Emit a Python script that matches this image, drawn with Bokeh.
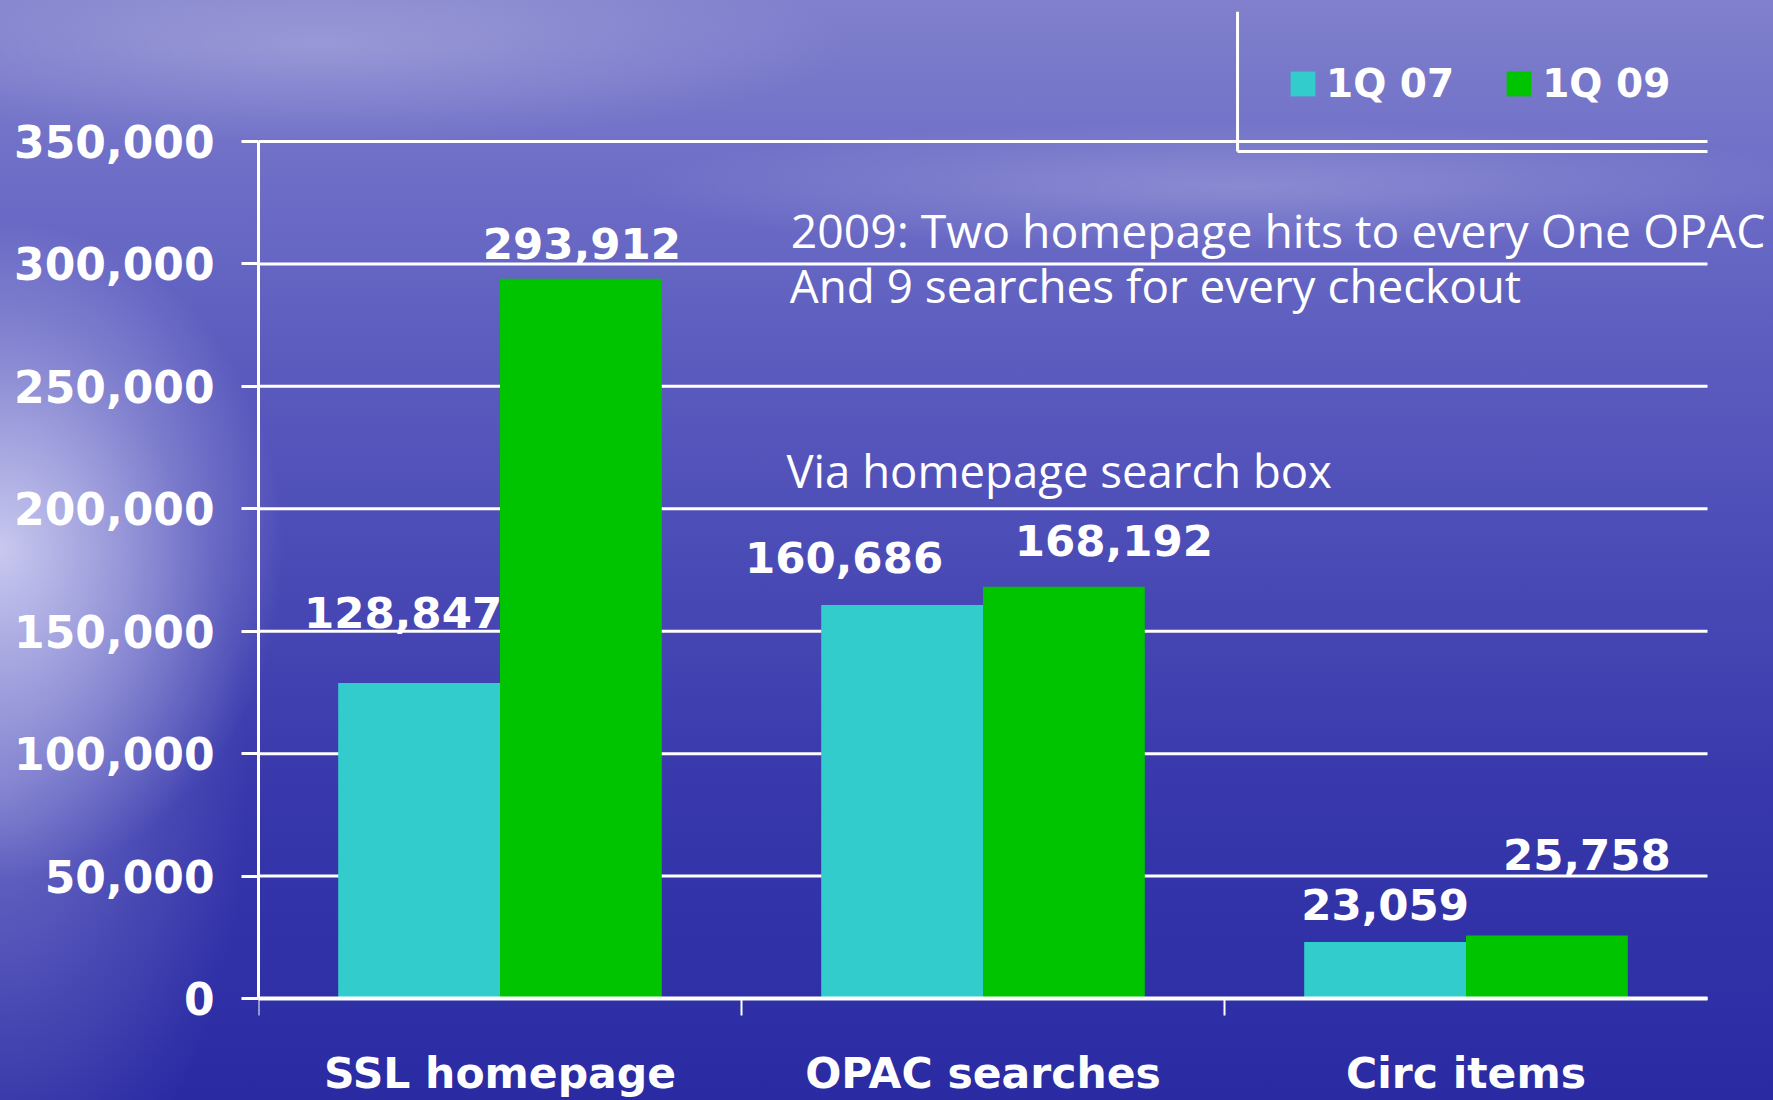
from bokeh.plotting import figure
from bokeh.models import (ColumnDataSource, FixedTicker, NumeralTickFormatter, Range1d,
                          Legend, LegendItem, LabelSet, Label)
from bokeh.core.properties import value
from bokeh.transform import dodge
from bokeh.embed import file_html
from bokeh.resources import INLINE

# ---------------- data ----------------
categories = ["SSL homepage", "OPAC searches", "Circ items"]
series_names = ["1Q 07", "1Q 09"]
values_1q07 = [128847, 160686, 23059]
values_1q09 = [293912, 168192, 25758]
y_ticks = [0, 50000, 100000, 150000, 200000, 250000, 300000, 350000]
notes = ["2009: Two homepage hits to every One OPAC",
         "And  9 searches for every checkout",
         "Via homepage search box"]

# ---------------- styling (label nudges in screen px) ----------------
label_dx_07 = [-16, -58, 0]
label_dy_07 = [55, 32, 22]
label_dx_09 = [1, 50, 40]
label_dy_09 = [20, 31, 65]
note_pos = [(0.602, 313650), (0.600, 291200), (0.593, 215650)]
note_size = ["46.3px", "45.8px", "45.5px"]

CYAN = "#33CCCC"
GREEN = "#00C400"
BOLD = value("DejaVu Sans")

W, H = 1773, 1100
LEFT = 258
n = len(categories)
px_per_cat = 483.0
x_end = n - 0.5 + (W - LEFT - n * px_per_cat) / px_per_cat
y_max = y_ticks[-1]
px_per_val = 857.0 / y_max
zero_px = 998
y_top = zero_px / px_per_val
y_bot = -(H - zero_px) / px_per_val

bg = ("radial-gradient(ellipse 16% 30% at 0% 50%, rgba(235,235,255,0.75), rgba(235,235,255,0) 100%),"
      "radial-gradient(ellipse 14% 40% at 0% 72%, rgba(200,200,245,0.35), rgba(200,200,245,0) 100%),"
      "radial-gradient(ellipse 30% 9% at 18% 4%, rgba(255,255,255,0.22), rgba(255,255,255,0) 100%),"
      "radial-gradient(ellipse 35% 6% at 70% 17%, rgba(255,255,255,0.20), rgba(255,255,255,0) 100%),"
      "linear-gradient(to bottom, #8080cd 0%, #7070c8 14%, #5c5cbf 32%, #4a4ab6 52%, #3838ac 72%, #2a2aa3 100%)")

p = figure(width=W, height=H, x_range=Range1d(-0.5, x_end),
           y_range=Range1d(y_bot, y_top), output_backend="svg", toolbar_location=None,
           min_border_left=LEFT, min_border_right=0, min_border_top=0, min_border_bottom=0,
           background_fill_color=None, border_fill_color=None, outline_line_color=None,
           styles={"background": bg})

src = ColumnDataSource(dict(
    x=list(range(n)),
    v07=values_1q07, v09=values_1q09,
    t07=[f"{v:,}" for v in values_1q07], t09=[f"{v:,}" for v in values_1q09],
    dx07=label_dx_07, dy07=label_dy_07, dx09=label_dx_09, dy09=label_dy_09,
))

# grid lines (bounded to the category span)
p.segment(x0=[-0.5] * len(y_ticks), x1=[n - 0.5] * len(y_ticks), y0=y_ticks, y1=y_ticks,
          line_color="white", line_width=3, level="underlay")

bw = 0.335
r07 = p.vbar(x=dodge("x", -bw / 2), top="v07", width=bw, source=src,
             fill_color=CYAN, line_color=None)
r09 = p.vbar(x=dodge("x", bw / 2), top="v09", width=bw, source=src,
             fill_color=GREEN, line_color=None)

for xs, col, dx, dy in [(-bw / 2, "07", "dx07", "dy07"), (bw / 2, "09", "dx09", "dy09")]:
    p.add_layout(LabelSet(x=dodge("x", xs), y="v" + col, text="t" + col, source=src,
                          x_offset=dx, y_offset=dy, text_align="center",
                          text_baseline="alphabetic", text_font=BOLD, text_font_style="bold",
                          text_font_size="43.5px", text_color="white"))

# y axis
ya = p.yaxis[0]
ya.ticker = FixedTicker(ticks=y_ticks, minor_ticks=[])
ya.formatter = NumeralTickFormatter(format="0,0")
ya.bounds = (0, y_max)
ya.axis_line_color = "white"
ya.axis_line_width = 3
ya.major_tick_line_color = "white"
ya.major_tick_line_width = 3
ya.major_tick_out = 17
ya.major_tick_in = 0
ya.major_label_standoff = 27
ya.major_label_text_font = "DejaVu Sans"
ya.major_label_text_font_style = "bold"
ya.major_label_text_font_size = "44px"
ya.major_label_text_color = "white"

# x axis (drawn at y = 0)
xa = p.xaxis[0]
xa.fixed_location = 0
xa.ticker = FixedTicker(ticks=list(range(n)), minor_ticks=[i - 0.5 for i in range(n)])
xa.major_label_overrides = {i: c for i, c in enumerate(categories)}
xa.bounds = (-0.5, n - 0.5)
xa.axis_line_color = "white"
xa.axis_line_width = 4
xa.major_tick_line_color = None
xa.major_tick_out = 0
xa.major_tick_in = 0
xa.minor_tick_line_color = "white"
xa.minor_tick_line_width = 2
xa.minor_tick_out = 17
xa.minor_tick_in = 0
xa.major_label_standoff = 33
xa.major_label_text_font = "DejaVu Sans"
xa.major_label_text_font_style = "bold"
xa.major_label_text_font_size = "42.5px"
xa.major_label_text_color = "white"

p.xgrid.visible = False
p.ygrid.visible = False

# notes
for (nx, ny), t, fs in zip(note_pos, notes, note_size):
    p.add_layout(Label(x=nx, y=ny, text=t, text_font="Open Sans", text_font_size=fs,
                       text_color="white", text_baseline="alphabetic"))

# legend
legend = Legend(items=[LegendItem(label=series_names[0], renderers=[r07]),
                       LegendItem(label=series_names[1], renderers=[r09])],
                orientation="horizontal", location=(1029, 994), padding=0, margin=0,
                spacing=49, label_standoff=8, glyph_width=31, glyph_height=31,
                label_text_font="DejaVu Sans", label_text_font_style="bold",
                label_text_font_size="39px", label_text_color="white",
                background_fill_alpha=0, border_line_color=None)
p.add_layout(legend, "center")

# legend frame (L-shape)
lx = 1.527
ly = 345900
p.segment(x0=[lx, lx], y0=[403000, ly], x1=[lx, n - 0.5], y1=[ly, ly],
          line_color="white", line_width=3)

open("out.html", "w").write(file_html(p, INLINE))
